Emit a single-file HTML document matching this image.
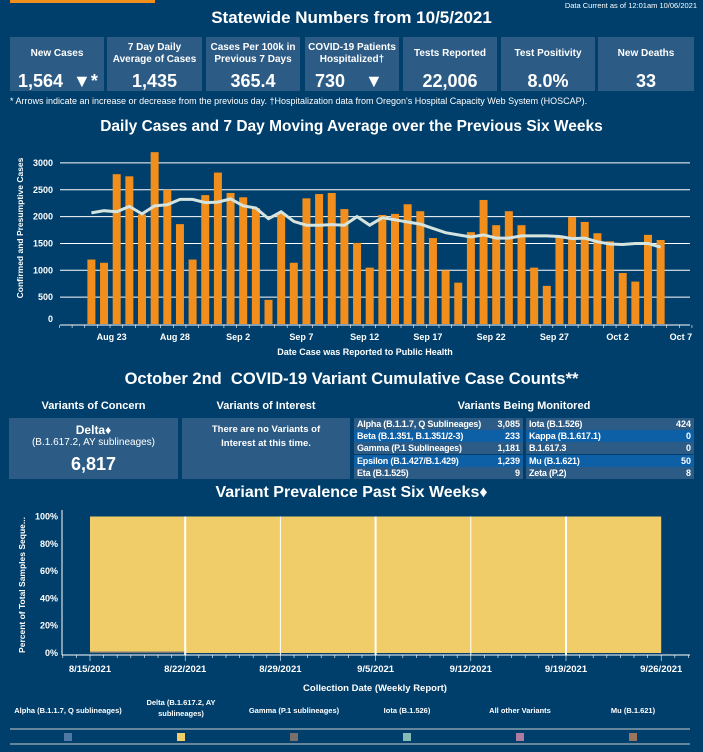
<!DOCTYPE html>
<html><head><meta charset="utf-8">
<style>
body{margin:0;width:703px;height:752px;background:#003f6b;color:#fff;font-family:"Liberation Sans",sans-serif;font-weight:bold;position:relative;overflow:hidden}
.a{position:absolute}
.card{position:absolute;top:37px;height:54px;background:#2c5c86;text-align:center}
.card .l{position:absolute;left:0;right:0;top:0;height:34px;display:flex;align-items:center;justify-content:center;font-size:10px;line-height:12px}
.card .v{position:absolute;left:0;right:0;top:34px;font-size:18px}
.h{position:absolute;left:0;width:703px;text-align:center}
.row{position:absolute;height:12px;font-size:9px;line-height:12px}
.row span{position:absolute}
</style></head><body>
<div class="a" style="left:10px;top:0;width:145px;height:3px;background:#f28e1c"></div>
<div class="a" style="right:6px;top:1px;font-size:7.5px;font-weight:normal">Data Current as of 12:01am 10/06/2021</div>
<div class="h" style="top:8px;font-size:17px">Statewide Numbers from 10/5/2021</div>

<div class="card" style="left:10px;width:94px"><div class="l">New Cases</div><div class="v" style="text-align:left;padding-left:8px">1,564 &nbsp;▼*</div></div>
<div class="card" style="left:107px;width:95px"><div class="l">7 Day Daily<br>Average of Cases</div><div class="v">1,435</div></div>
<div class="card" style="left:206px;width:94px"><div class="l">Cases Per 100k in<br>Previous 7 Days</div><div class="v">365.4</div></div>
<div class="card" style="left:305px;width:94px"><div class="l">COVID-19 Patients<br>Hospitalized†</div><div class="v" style="text-align:left;padding-left:10px">730 &nbsp;&nbsp;&nbsp;▼</div></div>
<div class="card" style="left:403px;width:94px"><div class="l">Tests Reported</div><div class="v">22,006</div></div>
<div class="card" style="left:501px;width:94px"><div class="l">Test Positivity</div><div class="v">8.0%</div></div>
<div class="card" style="left:598px;width:96px"><div class="l">New Deaths</div><div class="v">33</div></div>
<div class="a" style="left:10px;top:96px;font-size:9px;font-weight:normal">* Arrows indicate an increase or decrease from the previous day. †Hospitalization data from Oregon's Hospital Capacity Web System (HOSCAP).</div>

<div class="h" style="top:118px;font-size:15.5px">Daily Cases and 7 Day Moving Average over the Previous Six Weeks</div>
<svg class="a" style="left:0;top:140px" width="703" height="225" id="c1"></svg>

<div class="h" style="top:370px;font-size:16.5px">October 2nd&nbsp; COVID-19 Variant Cumulative Case Counts**</div>
<div class="a" style="left:9px;width:169px;top:400px;text-align:center;font-size:11px">Variants of Concern</div>
<div class="a" style="left:182px;width:168px;top:400px;text-align:center;font-size:11px">Variants of Interest</div>
<div class="a" style="left:354px;width:340px;top:400px;text-align:center;font-size:11px">Variants Being Monitored</div>
<div class="a" style="left:9px;top:418px;width:169px;height:61px;background:#2c5c86;text-align:center">
<div style="font-size:12px;margin-top:5px">Delta♦</div><div style="font-size:10px;font-weight:normal">(B.1.617.2, AY sublineages)</div><div style="font-size:18px;margin-top:6px">6,817</div></div>
<div class="a" style="left:182px;top:418px;width:168px;height:61px;background:#2c5c86;text-align:center;font-size:9.5px;line-height:14px"><div style="margin-top:5px">There are no Variants of<br>Interest at this time.</div></div>
<div id="vt"></div>

<div class="h" style="top:484px;font-size:16px">Variant Prevalence Past Six Weeks♦</div>
<svg class="a" style="left:0;top:505px" width="703" height="247" id="c2"></svg>

<script>
const NS='http://www.w3.org/2000/svg';
function mk(p,t,a,txt){const e=document.createElementNS(NS,t);for(const k in a)e.setAttribute(k,a[k]);if(txt!==undefined)e.textContent=txt;p.appendChild(e);return e;}
// ---- daily cases data
const caseValues=[1200,1140,2790,2750,2040,3200,2500,1860,1200,2400,2820,2440,2360,2160,450,2060,1140,2340,2420,2440,2140,1510,1050,2030,2050,2230,2100,1600,1000,770,1710,2310,1840,2100,1840,1050,710,1650,1990,1900,1690,1540,950,790,1660,1564];
const movingAvg=[2070,2110,2090,2190,2050,2200,2220,2320,2320,2260,2270,2330,2200,2160,1960,2090,1910,1840,1840,1850,1840,2000,1840,1980,1940,1900,1860,1780,1700,1660,1620,1660,1600,1600,1640,1640,1640,1630,1590,1600,1530,1490,1480,1500,1500,1430];
const yTicks=[0,500,1000,1500,2000,2500,3000];
const dateLabels=['Aug 23','Sep 2','Sep 12','Sep 22','Oct 2','Aug 28','Sep 7','Sep 17','Sep 27','Oct 7'];
const dateLabelIdx=[1.6,11.6,21.6,31.6,41.6,6.6,16.6,26.6,36.6,46.6];
const c1=document.getElementById('c1');
const X=i=>91.4+i*12.65, Y=v=>184-v*0.0537;
yTicks.forEach(t=>{if(t){const g=mk(c1,'line',{x1:60,x2:690,y1:Y(t),y2:Y(t),stroke:'#fff','stroke-width':1});}
const l=mk(c1,'text',{x:53,y:Y(t)+(t?3:-2),'text-anchor':'end','font-size':9,fill:'#fff'},t);});
caseValues.forEach((v,i)=>{const r=mk(c1,'rect',{x:X(i)-4,y:Y(v),width:8,height:184-Y(v),fill:'#f28e1c'});});
const pl=mk(c1,'polyline',{points:movingAvg.map((v,i)=>X(i)+','+Y(v)).join(' '),fill:'none',stroke:'#d6e4e0','stroke-width':3});

const ax=mk(c1,'line',{x1:60,x2:690,y1:185,y2:185,stroke:'#fff','stroke-width':1});
for(let i=-3;i<50;i++){const t=mk(c1,'line',{x1:X(i)+6,x2:X(i)+6,y1:185,y2:188,stroke:'#fff','stroke-width':0.6});}
dateLabels.forEach((d,k)=>{const l=mk(c1,'text',{x:X(dateLabelIdx[k]),y:200,'text-anchor':'middle','font-size':9,fill:'#fff'},d);});
let t1=mk(c1,'text',{x:365,y:215,'text-anchor':'middle','font-size':9,fill:'#fff'},'Date Case was Reported to Public Health');
t1=mk(c1,'text',{x:0,y:0,'text-anchor':'middle','font-size':8.5,fill:'#fff',transform:'translate(23,88) rotate(-90)'},'Confirmed and Presumptive Cases');

// ---- variant table
const leftNames=['Alpha (B.1.1.7, Q Sublineages)','Beta (B.1.351, B.1.351/2-3)','Gamma (P.1 Sublineages)','Epsilon (B.1.427/B.1.429)','Eta (B.1.525)'];
const leftCounts=['3,085','233','1,181','1,239','9'];
const rightNames=['Iota (B.1.526)','Kappa (B.1.617.1)','B.1.617.3','Mu (B.1.621)','Zeta (P.2)'];
const rightCounts=['424','0','0','50','8'];
const vt=document.getElementById('vt');
function rows(names,counts,x,w){names.forEach((n,i)=>{const d=document.createElement('div');d.className='row';


d.style.cssText=`left:${x}px;width:${w}px;top:${418+i*12.2}px;background:${i%2?'#0d5fa6':'#2c5c86'}`;
d.innerHTML=`<span style="left:3px;letter-spacing:-0.2px">${n}</span><span style="right:3px">${counts[i]}</span>`;vt.appendChild(d);});}
rows(leftNames,leftCounts,354,169);rows(rightNames,rightCounts,526,168);

// ---- prevalence chart
const weekLabels=['8/15/2021','8/22/2021','8/29/2021','9/5/2021','9/12/2021','9/19/2021','9/26/2021'];
const deltaPct=[99,100,100,100,100,100];
const otherPct=[1,0,0,0,0,0];
const pctTicks=[0,20,40,60,80,100];
const c2=document.getElementById('c2');
const WX=i=>90+i*95.2, PY=p=>148-p*1.365;
pctTicks.forEach(p=>{const l=mk(c2,'text',{x:58,y:PY(p)+3,'text-anchor':'end','font-size':9,fill:'#fff'},p+'%');});
deltaPct.forEach((p,i)=>{const o=mk(c2,'rect',{x:WX(i),y:PY(otherPct[i]),width:95.2,height:148-PY(otherPct[i]),fill:'#777'});
const r=mk(c2,'rect',{x:WX(i),y:PY(otherPct[i]+p),width:95.2,height:PY(otherPct[i])-PY(otherPct[i]+p),fill:'#f0cd68'});});
for(let i=1;i<6;i++){const s=mk(c2,'line',{x1:WX(i),x2:WX(i),y1:PY(100),y2:150,stroke:'#fff','stroke-width':i%2?2:1});}
let a2=mk(c2,'line',{x1:62,x2:690,y1:150,y2:150,stroke:'#fff'});
a2=mk(c2,'line',{x1:62,x2:62,y1:5,y2:150,stroke:'#fff'});
for(let i=-2;i<45;i++){const t=mk(c2,'line',{x1:90+i*13.6,x2:90+i*13.6,y1:150,y2:i%7?153:156,stroke:'#fff','stroke-width':0.6});}
weekLabels.forEach((w,i)=>{const l=mk(c2,'text',{x:WX(i),y:167,'text-anchor':'middle','font-size':9.5,fill:'#fff'},w);});
a2=mk(c2,'text',{x:375,y:186,'text-anchor':'middle','font-size':9.5,fill:'#fff'},'Collection Date (Weekly Report)');
a2=mk(c2,'text',{x:0,y:0,'text-anchor':'middle','font-size':8.5,fill:'#fff',transform:'translate(25,80) rotate(-90)'},'Percent of Total Samples Seque...');
// legend
const legendNames=[['Alpha (B.1.1.7, Q sublineages)'],['Delta (B.1.617.2, AY','sublineages)'],['Gamma (P.1 sublineages)'],['Iota (B.1.526)'],['All other Variants'],['Mu (B.1.621)']];
const legendColors=['#4e79a7','#f0cd68','#79706e','#86bcb6','#b07aa1','#9c755f'];
[224,239].forEach(y=>{const l=mk(c2,'line',{x1:10,x2:690,y1:y,y2:y,stroke:'#ccc'});});
legendNames.forEach((n,i)=>{const cx=68+i*113;
n.forEach((s,j)=>{const t=mk(c2,'text',{x:cx,y:(n.length>1?200:208)+j*11,'text-anchor':'middle','font-size':7.5,fill:'#fff'},s);});
const r=mk(c2,'rect',{x:cx-4,y:228,width:8,height:8,fill:legendColors[i]});});
</script>
</body></html>
